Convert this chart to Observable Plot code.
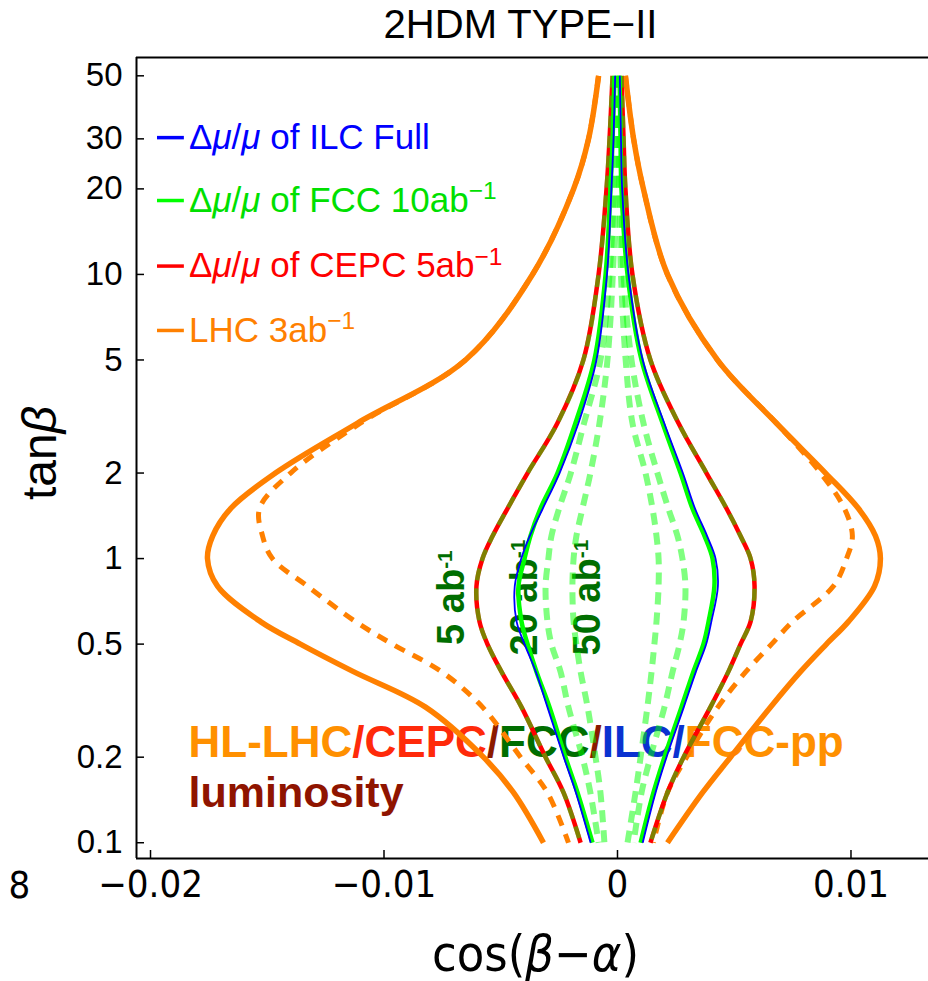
<!DOCTYPE html>
<html><head><meta charset="utf-8">
<script src="https://cdn.jsdelivr.net/npm/d3@7"></script>
<script src="https://cdn.jsdelivr.net/npm/@observablehq/plot@0.6"></script>
<style>body{margin:0;background:#fff} svg{display:block}</style>
</head><body><div id="chart"></div>
<script>
// ---------- data ----------
const tanb = [50,30,20,10,5,3,2,1.5,1.2,1,0.8,0.6,0.5,0.4,0.3,0.2,0.15,0.1];
// HL-LHC 3 ab^-1 (solid orange)
const lhcLeft  = [-0.00081,-0.00124,-0.00188,-0.00364,-0.00651,-0.01113,-0.01465,-0.01657,-0.01734,-0.01756,-0.01713,-0.01529,-0.01358,-0.01131,-0.00822,-0.00574,-0.00445,-0.00317];
const lhcRight = [0.00034,0.00069,0.00111,0.00214,0.00428,0.0068,0.00891,0.01032,0.01105,0.01126,0.01101,0.00989,0.00895,0.00784,0.00655,0.00484,0.00364,0.00214];
// FCC-pp (dashed orange)
const fccppLeft  = [-0.00081,-0.00124,-0.00188,-0.00364,-0.00651,-0.011,-0.0140,-0.01533,-0.0152,-0.01478,-0.01328,-0.01122,-0.00964,-0.00754,-0.00578,-0.00415,-0.003,-0.0021];
const fccppRight = [0.00034,0.00069,0.00111,0.00214,0.00428,0.0068,0.0087,0.00972,0.01006,0.00981,0.00925,0.0075,0.0066,0.0055,0.0043,0.00296,0.00214,0.00154];
// CEPC 5 ab^-1 (red) — FCC 5 ab^-1 dashed coincides
const cepcLeft  = [-0.00021,-0.00034,-0.00047,-0.00081,-0.00146,-0.00257,-0.00385,-0.00471,-0.00535,-0.00578,-0.00604,-0.00591,-0.00557,-0.00497,-0.00411,-0.00308,-0.00231,-0.00158];
const cepcRight = [0.00017,0.00026,0.00034,0.00064,0.00141,0.00261,0.00381,0.00467,0.00527,0.0057,0.00587,0.0057,0.00527,0.00475,0.00398,0.00283,0.00214,0.00141];
// FCC 10 ab^-1 (green)
const fccLeft  = [-0.00013,-0.00021,-0.0003,-0.00051,-0.00099,-0.0018,-0.00257,-0.0033,-0.00373,-0.00398,-0.00424,-0.00411,-0.00385,-0.00347,-0.00291,-0.00223,-0.00171,-0.00107];
const fccRight = [0.00009,0.00013,0.00017,0.00043,0.00103,0.00193,0.0027,0.00321,0.00373,0.00407,0.00415,0.0039,0.00368,0.00325,0.00274,0.00201,0.00154,0.00099];
// ILC full (blue)
const ilcLeft  = [-0.0001,-0.00017,-0.00026,-0.00045,-0.0009,-0.00167,-0.00248,-0.0032,-0.00376,-0.00412,-0.0044,-0.00432,-0.00398,-0.0035,-0.003,-0.0023,-0.00178,-0.00115];
const ilcRight = [0.0001,0.00015,0.0002,0.00047,0.00108,0.002,0.0028,0.00332,0.00384,0.0042,0.0043,0.00402,0.0038,0.00336,0.00284,0.0021,0.00163,0.00108];
// FCC luminosity scan 20 ab^-1 and 50 ab^-1 (light green dashed)
const fcc20Left  = [-0.00005,-0.0001,-0.00015,-0.00034,-0.00073,-0.00143,-0.002,-0.0025,-0.00283,-0.00296,-0.00308,-0.003,-0.00283,-0.00244,-0.0021,-0.0015,-0.00116,-0.00081];
const fcc20Right = [0.00005,0.0001,0.00015,0.00026,0.0006,0.00111,0.00171,0.00218,0.00257,0.00278,0.00291,0.00283,0.00266,0.00236,0.00201,0.00141,0.00103,0.00069];
const fcc50Left  = [-0.00003,-0.00005,-0.00008,-0.0002,-0.00043,-0.00077,-0.00116,-0.0015,-0.00176,-0.00188,-0.00193,-0.00188,-0.00176,-0.00158,-0.00128,-0.00094,-0.00073,-0.00056];
const fcc50Right = [0.00003,0.00005,0.00008,0.00015,0.00035,0.00064,0.0012,0.0015,0.00167,0.00176,0.00176,0.00167,0.00158,0.00146,0.00128,0.00099,0.00077,0.00043];

const xTicks = [-0.02,-0.01,0,0.01];
const yTicks = [0.1,0.2,0.5,1,2,5,10,20,30,50];
const legendLabels = ["Δμ/μ of ILC Full","Δμ/μ of FCC 10ab⁻¹","Δμ/μ of CEPC 5ab⁻¹","LHC 3ab⁻¹"];
const lumiLabels = ["5 ab⁻¹","20 ab⁻¹","50 ab⁻¹"];
const annotation = ["HL-LHC/CEPC/FCC/ILC/FCC-pp","luminosity"];

// ---------- layout ----------
const W = 928, H = 981, mL = 136, mR = 0, mT = 57, mB = 123;
const xDomain = [-0.0206, 0.01332];
const yDomain = [0.088, 58];
const legendColors = ["#0000ff","#00e000","#ff0000","#ff8000"];
const legendLineColors = ["#0000ff","#00ff00","#ff0000","#ff8000"];
const legendT = [30.3, 18.2, 10.7, 6.35];
const lumiX = [-0.00711, -0.00398, -0.00128];
const pxPerDecade = (H - mT - mB) / Math.log10(yDomain[1] / yDomain[0]);
const tickLenY = Math.pow(10, 8 / pxPerDecade);
const tickLenX = 8 * (xDomain[1] - xDomain[0]) / (W - mL - mR);

function branches(left, right) {
  const rows = [];
  tanb.forEach((t, i) => rows.push({side: "L", t, c: left[i]}));
  tanb.forEach((t, i) => rows.push({side: "R", t, c: right[i]}));
  return rows;
}
const curveLine = (rows, opts) => Plot.line(rows, {x: "c", y: "t", z: "side", curve: "catmull-rom", strokeLinecap: "butt", ...opts});

const fontMain = "'Liberation Sans', Arial, Helvetica, sans-serif";
const fontNarrow = "'Liberation Sans Narrow', 'DejaVu Sans Condensed', 'Liberation Sans', Arial, sans-serif";

const plot = Plot.plot({
  width: W, height: H,
  marginLeft: mL, marginRight: mR, marginTop: mT, marginBottom: mB,
  x: {domain: xDomain},
  y: {type: "log", domain: yDomain},
  color: {type: "identity"},
  style: {fontFamily: fontMain, background: "#fff", overflow: "visible"},
  marks: [
    // annotation text (under curves)
    Plot.text([annotation[0]], {x: -0.01837, y: 0.225, text: d => d, textAnchor: "start", lineAnchor: "middle", fontSize: 44, fontWeight: "bold", fill: "#ff9000"}),
    Plot.text([annotation[1]], {x: -0.01837, y: 0.149, text: d => d, textAnchor: "start", lineAnchor: "middle", fontSize: 43, fontWeight: "bold", fill: "#8f1400"}),
    Plot.text(lumiLabels, {x: (d, i) => lumiX[i], y: 0.729, text: d => d, rotate: -90, textAnchor: "middle", lineAnchor: "middle", fontSize: 38, fontWeight: "bold", fill: "#006e00"}),

    // curves
    curveLine(branches(lhcLeft, lhcRight), {stroke: "#ff8000", strokeWidth: 5.5}),
    curveLine(branches(fccppLeft, fccppRight), {stroke: "#ff8000", strokeWidth: 5, strokeDasharray: "11,9"}),
    curveLine(branches(cepcLeft, cepcRight), {stroke: "#ff0000", strokeWidth: 4.5}),
    curveLine(branches(cepcLeft, cepcRight), {stroke: "#00ff00", strokeOpacity: 0.5, strokeWidth: 4.5, strokeDasharray: "12,8"}),
    curveLine(branches(fcc20Left, fcc20Right), {stroke: "#00ff00", strokeOpacity: 0.5, strokeWidth: 6, strokeDasharray: "12,8"}),
    curveLine(branches(fcc50Left, fcc50Right), {stroke: "#00ff00", strokeOpacity: 0.5, strokeWidth: 6, strokeDasharray: "12,8"}),
    curveLine(branches(fccLeft, fccRight), {stroke: "#00ff00", strokeWidth: 4.5}),
    curveLine(branches(ilcLeft, ilcRight), {stroke: "#0000ff", strokeWidth: 1.8}),

    // legend
    Plot.ruleY(legendLabels, {y: (d, i) => legendT[i], x1: -0.0197, x2: -0.01855, stroke: (d, i) => legendLineColors[i], strokeWidth: 3.5}),
    Plot.text(legendLabels, {x: -0.01835, y: (d, i) => legendT[i], text: d => d, fill: (d, i) => legendColors[i], textAnchor: "start", lineAnchor: "middle", fontSize: 35}),

    // frame
    Plot.ruleX([xDomain[0]], {stroke: "#000", strokeWidth: 2}),
    Plot.ruleY(yDomain, {stroke: "#000", strokeWidth: 2}),
    // inward ticks
    Plot.ruleX(xTicks, {y1: yDomain[0], y2: yDomain[0] * tickLenY, stroke: "#000", strokeWidth: 1.5}),
    Plot.ruleY(yTicks, {x1: xDomain[0], x2: xDomain[0] + tickLenX, stroke: "#000", strokeWidth: 1.5}),
    // axes labels
    Plot.axisX(xTicks, {tickSize: 0, tickPadding: 12, fontSize: 38, fontFamily: fontNarrow, label: null,
      tickFormat: d => d === 0 ? "0" : d3.format(".2~f")(d)}),
    Plot.axisY(yTicks, {tickSize: 0, tickPadding: 14, fontSize: 33, label: null, tickFormat: d => String(d)}),
    // titles
    Plot.text(["2HDM TYPE−II"], {frameAnchor: "top", dx: -12, dy: -32, lineAnchor: "middle", fontSize: 40}),
    Plot.text(["tanβ"], {frameAnchor: "left", dx: -96, dy: -5, rotate: -90, textAnchor: "middle", lineAnchor: "middle", fontSize: 48}),
    Plot.text(["cos(β−α)"], {frameAnchor: "bottom", dx: 3, dy: 96, lineAnchor: "middle", fontSize: 50, fontFamily: fontNarrow}),
    Plot.text(["8"], {frameAnchor: "bottom-left", dx: -128, dy: 27, lineAnchor: "middle", fontSize: 38, fontFamily: fontNarrow})
  ]
});

document.getElementById("chart").appendChild(plot);

// ---------- rich text post-processing (italic Greek, superscripts, colored segments) ----------
const NS = "http://www.w3.org/2000/svg";
const segColors = [["HL-LHC","#ff9000"],["/CEPC","#ff2a0a"],["/","#8b1a00"],["FCC","#006e00"],["/","#8b1a00"],["ILC/","#0a32d0"],["FCC-pp","#ff9000"]];
d3.select(plot).selectAll("text").each(function() {
  const el = this;
  if (el.querySelector("tspan")) return;
  const s = el.textContent;
  if (s === annotation[0]) {
    el.textContent = "";
    for (const [t, c] of segColors) {
      const ts = document.createElementNS(NS, "tspan");
      ts.textContent = t; ts.setAttribute("fill", c); el.appendChild(ts);
    }
    return;
  }
  if (!/[μβα⁻]/.test(s)) return;
  const isLumi = lumiLabels.includes(s);
  el.textContent = "";
  let buf = "";
  const flush = () => { if (buf) { el.appendChild(document.createTextNode(buf)); buf = ""; } };
  for (let i = 0; i < s.length; i++) {
    const ch = s[i];
    if ("μβα".includes(ch)) {
      flush();
      const ts = document.createElementNS(NS, "tspan");
      ts.setAttribute("font-style", "italic"); ts.textContent = ch; el.appendChild(ts);
    } else if (ch === "⁻" && s[i + 1] === "¹") {
      flush();
      const ts = document.createElementNS(NS, "tspan");
      ts.setAttribute("dy", isLumi ? "-0.55em" : "-0.5em");
      ts.setAttribute("font-size", isLumi ? "0.55em" : "0.7em");
      ts.textContent = isLumi ? "-1" : "−1";
      el.appendChild(ts); i++;
    } else buf += ch;
  }
  flush();
});
</script>
</body></html>
